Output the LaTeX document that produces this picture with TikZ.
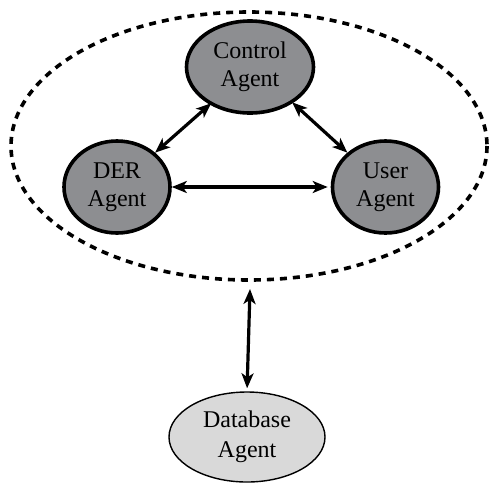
\documentclass[tikz,border=0pt]{standalone}
\usepackage{fontspec}
\setmainfont{Liberation Serif}
\usetikzlibrary{arrows.meta,shapes.geometric}
\definecolor{agentgray}{RGB}{141,142,145}
\definecolor{dbgray}{RGB}{217,217,217}
\tikzset{
  agent/.style={ellipse, draw=black, line width=3.6pt, fill=agentgray,
    inner sep=0pt, align=center, font=\fontsize{24}{28}\selectfont},
  dbagent/.style={ellipse, draw=black, line width=1.4pt, fill=dbgray,
    inner sep=0pt, align=center, font=\fontsize{24}{30}\selectfont},
  link/.style={line width=3.2pt,
    {Stealth[length=15pt,width=12pt,inset=4pt]}-{Stealth[length=15pt,width=12pt,inset=4pt]}},
  group/.style={draw=black, line width=3.6pt, dash pattern=on 7pt off 6pt}
}
\begin{document}
\begin{tikzpicture}[x=1pt,y=-1pt]
  \useasboundingbox (0,0) rectangle (489,485);
  % enclosing group of cooperating agents
  \draw[group] (249,146) ellipse [x radius=238, y radius=134];
  \coordinate (grpbottom) at (250,289);

  \node[agent, minimum width=127pt, minimum height=92pt] (ctrl) at (250,67) {Control\\Agent};
  \node[agent, minimum width=106pt, minimum height=92pt] (der) at (117,187) {DER\\Agent};
  \node[agent, minimum width=106pt, minimum height=92pt] (user) at (385.5,187) {User\\Agent};
  \node[dbagent, minimum width=156pt, minimum height=90pt] (db) at (247,437) {Database\\Agent};

  \draw[link, shorten <=0pt, shorten >=-2pt] (der.42) -- (ctrl.223);
  \draw[link, shorten <=-1pt, shorten >=0pt] (ctrl.-40) -- (user.138);
  \draw[link, shorten <=0pt, shorten >=3pt] (der.east) -- (user.west);
  \draw[link, shorten >=3pt] (grpbottom) -- (db.north);
\end{tikzpicture}
\end{document}
